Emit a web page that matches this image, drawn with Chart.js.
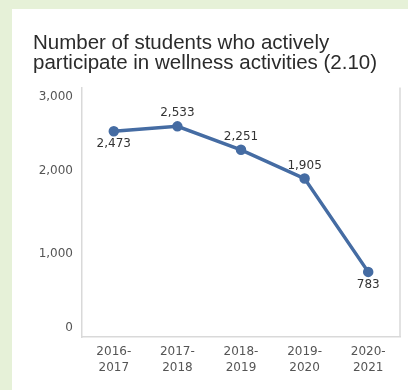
<!DOCTYPE html>
<html>
<head>
<meta charset="utf-8">
<script src="https://cdn.jsdelivr.net/npm/chart.js@4/dist/chart.umd.min.js"></script>
<style>
  html, body { margin: 0; padding: 0; }
  body { width: 408px; height: 390px; background: #e6f1d8; position: relative; overflow: hidden; }
  .card { position: absolute; left: 12px; top: 9px; width: 396px; height: 381px; background: #fff; }
</style>
</head>
<body>
<div class="card"><canvas id="myChart"></canvas></div>
<script>
const years = [['2016-', '2017'], ['2017-', '2018'], ['2018-', '2019'], ['2019-', '2020'], ['2020-', '2021']];
const students = [2473, 2533, 2251, 1905, 783];
const yTicks = [0, 1000, 2000, 3000];
// where each value label sits relative to its point
const labelSide = ['below', 'above', 'above', 'above', 'below'];

const lineColor = '#456ca3';
const frameColor = '#d9d9d9';
const tickFont = { family: 'DejaVu Sans', size: 12 };

// value labels next to each point
const pointLabels = {
  id: 'pointLabels',
  afterDatasetsDraw(chart) {
    const { ctx } = chart;
    const meta = chart.getDatasetMeta(0);
    ctx.save();
    ctx.font = '12px "DejaVu Sans"';
    ctx.fillStyle = '#333';
    ctx.textAlign = 'center';
    ctx.textBaseline = 'middle';
    meta.data.forEach((pt, i) => {
      const dy = labelSide[i] === 'above' ? -13 : 13;
      ctx.fillText(students[i].toLocaleString('en-US'), pt.x, pt.y + dy);
    });
    ctx.restore();
  },
};

// right edge of the plot frame
const rightFrame = {
  id: 'rightFrame',
  beforeDatasetsDraw(chart) {
    const { ctx, chartArea } = chart;
    ctx.save();
    ctx.strokeStyle = frameColor;
    ctx.lineWidth = 1.5;
    ctx.beginPath();
    ctx.moveTo(chartArea.right, chartArea.top);
    ctx.lineTo(chartArea.right, chartArea.bottom);
    ctx.stroke();
    ctx.restore();
  },
};

new Chart(document.getElementById('myChart'), {
  type: 'line',
  data: {
    labels: years,
    datasets: [
      {
        data: students,
        borderColor: lineColor,
        backgroundColor: lineColor,
        borderWidth: 3.5,
        pointRadius: 3.5,
        pointBackgroundColor: lineColor,
        pointBorderColor: lineColor,
        tension: 0,
      },
    ],
  },
  options: {
    responsive: true,
    maintainAspectRatio: false,
    animation: false,
    layout: {
      padding: { left: 21, right: 8, top: 14.5, bottom: 7 },
    },
    scales: {
      x: {
        offset: true,
        grid: { display: false, drawTicks: false },
        border: { display: true, color: frameColor, width: 1.5 },
        ticks: { color: '#555', font: { ...tickFont, lineHeight: 16 / 12 }, padding: 7, maxRotation: 0 },
      },
      y: {
        min: yTicks[0],
        max: yTicks[yTicks.length - 1],
        afterBuildTicks: (axis) => {
          axis.ticks = yTicks.map((v) => ({ value: v }));
        },
        afterFit: (axis) => {
          axis.width = 49;
        },
        grid: { display: false, drawTicks: false },
        border: { display: true, color: frameColor, width: 1.5 },
        ticks: {
          color: '#555',
          font: { ...tickFont, lineHeight: 18 / 12 },
          padding: 9,
          // nudge the end labels inside the frame
          callback: (value, index, ticks) => {
            const text = Number(value).toLocaleString('en-US');
            if (index === ticks.length - 1) return ['', text];
            if (index === 0) return [text, ''];
            return text;
          },
        },
      },
    },
    plugins: {
      legend: { display: false },
      tooltip: { enabled: false },
      title: {
        display: true,
        align: 'start',
        text: ['Number of students who actively', 'participate in wellness activities (2.10)'],
        color: '#2b2b2b',
        font: { family: 'Liberation Sans', size: 20.5, weight: 'normal', lineHeight: 20 / 20.5 },
        padding: { top: 10, bottom: 14 },
      },
    },
  },
  plugins: [pointLabels, rightFrame],
});
</script>
</body>
</html>
